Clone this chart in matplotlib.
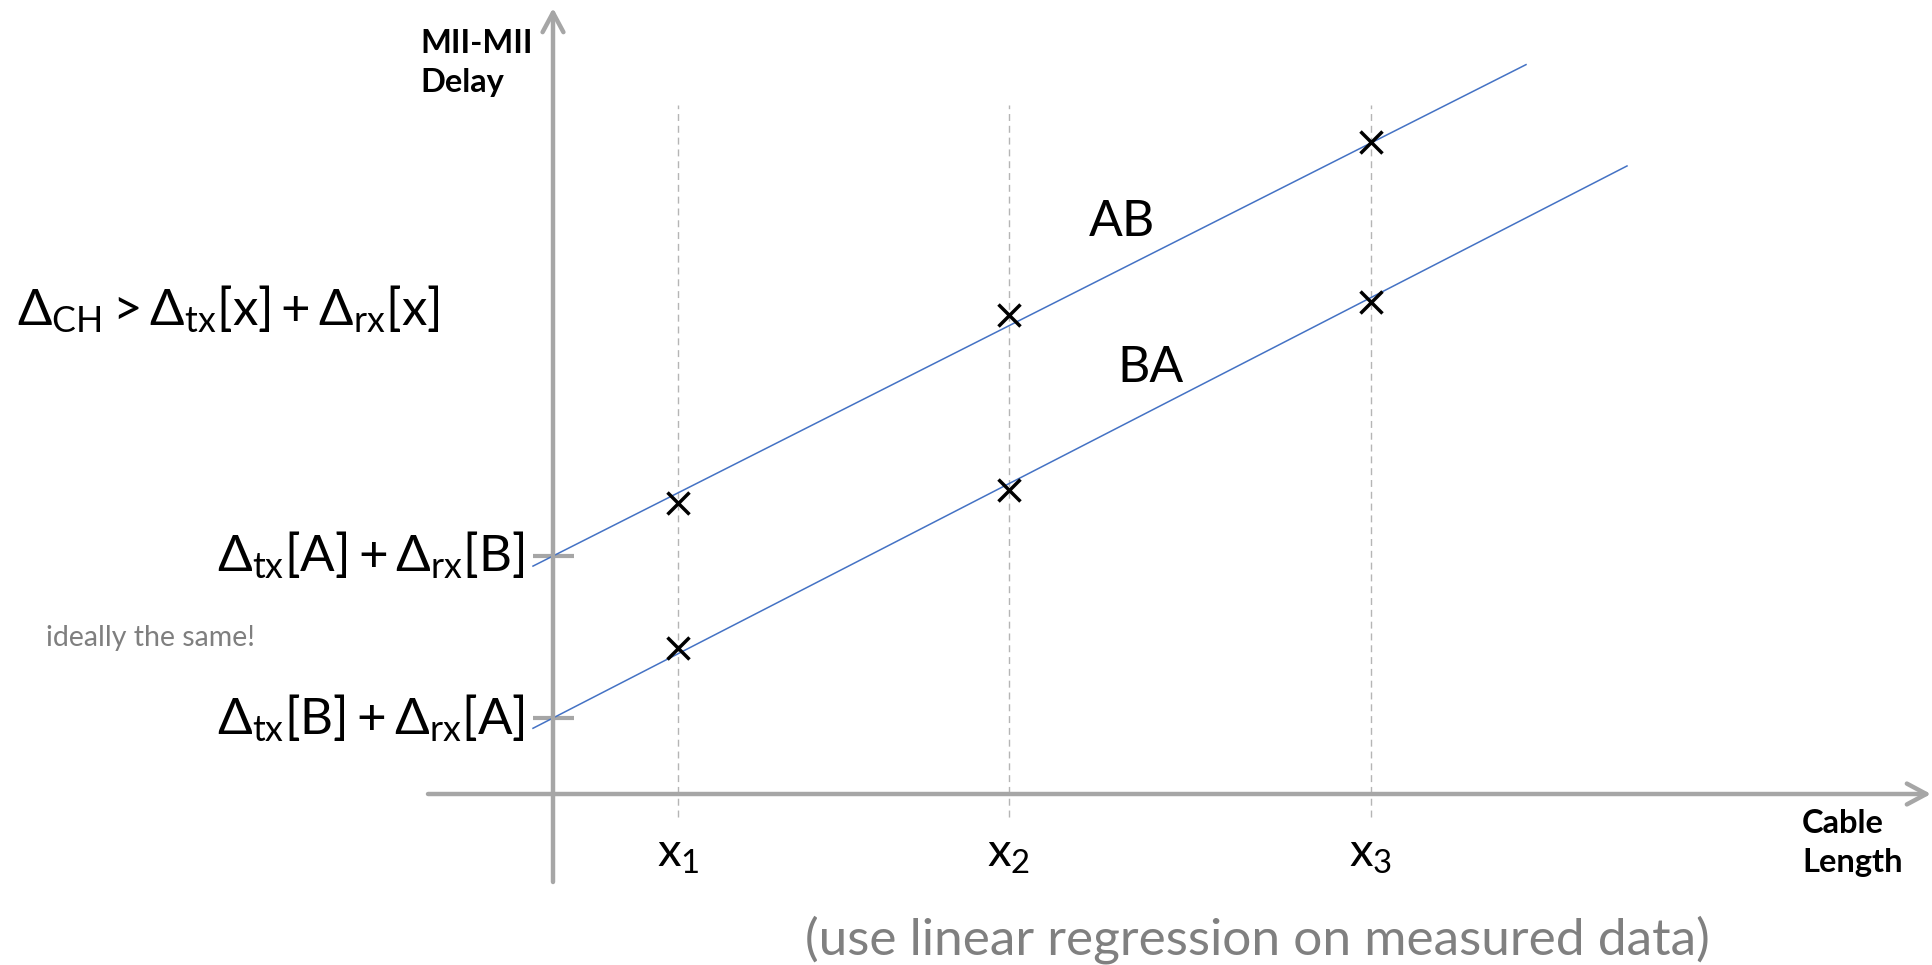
import matplotlib.pyplot as plt
import numpy as np

plt.rcParams['font.family'] = ['Lato', 'DejaVu Sans']
plt.rcParams['mathtext.fontset'] = 'custom'
plt.rcParams['mathtext.rm'] = 'Lato'
plt.rcParams['mathtext.it'] = 'Lato:italic'
plt.rcParams['mathtext.bf'] = 'Lato:bold'
plt.rcParams['mathtext.fallback'] = 'stixsans'

# measured points (arbitrary units)
cable_length = [1.25, 4.56, 8.18]
tick_labels = [r'$\mathrm{x}_1$', r'$\mathrm{x}_2$', r'$\mathrm{x}_3$']
delay_ab = [2.91, 4.79, 6.52]
delay_ba = [1.46, 3.04, 4.92]

# regression lines as drawn: (intercept, slope) and x range
fit_ab = (2.38, 0.505)
fit_ba = (0.76, 0.514)
range_ab = (-0.20, 9.73)
range_ba = (-0.20, 10.74)

label_ab = r'$\Delta_{\mathrm{tx}}[\mathrm{A}]+\Delta_{\mathrm{rx}}[\mathrm{B}]$'
label_ba = r'$\Delta_{\mathrm{tx}}[\mathrm{B}]+\Delta_{\mathrm{rx}}[\mathrm{A}]$'
condition = r'$\Delta_{\mathrm{CH}}>\Delta_{\mathrm{tx}}[\mathrm{x}]+\Delta_{\mathrm{rx}}[\mathrm{x}]$'

gray = '#a6a6a6'
blue = '#4472c4'

fig = plt.figure(figsize=(19.33, 9.65), dpi=100)
ax = fig.add_axes([0, 0, 1, 1])
ax.set_xlim(-5.53, 13.80)
ax.set_ylim(-1.71, 7.94)
ax.axis('off')

# axes with arrow heads
arrow = dict(arrowstyle='->,head_length=1.4,head_width=0.75', color=gray,
             lw=3.2, shrinkA=0, shrinkB=0, mutation_scale=10)
ax.annotate('', xy=(0, 7.86), xytext=(0, -0.88), arrowprops=arrow)
ax.annotate('', xy=(13.78, 0), xytext=(-1.25, 0), arrowprops=arrow)

# guides at the measured lengths
ax.vlines(cable_length, -0.23, 6.89, colors='#b5b5b5', linestyles=(0, (5, 3.5)), lw=1)

# intercept ticks
ax.hlines([fit_ab[0], fit_ba[0]], -0.2, 0.21, colors=gray, lw=3)

for (b, m), rng in [(fit_ab, range_ab), (fit_ba, range_ba)]:
    xs = np.array(rng)
    ax.plot(xs, b + m * xs, color=blue, lw=1.1, zorder=2)

ax.plot(cable_length, delay_ab, 'x', ms=16, mew=2.5, color='black', zorder=3)
ax.plot(cable_length, delay_ba, 'x', ms=16, mew=2.5, color='black', zorder=3)

for xv, lab in zip(cable_length, tick_labels):
    ax.text(xv, -0.73, lab, ha='center', va='baseline', fontsize=34)

ax.text(-0.28, fit_ab[0] - 0.15, label_ab, ha='right', va='baseline', fontsize=36.8)
ax.text(-0.28, fit_ba[0] - 0.16, label_ba, ha='right', va='baseline', fontsize=36.8)
ax.text(-5.36, 4.69, condition, ha='left', va='baseline', fontsize=36.6)
ax.text(-5.07, 1.48, 'ideally the same!', ha='left', va='baseline',
        fontsize=20.5, color='#7f7f7f')

ax.text(5.36, 5.58, 'AB', ha='left', va='baseline', fontsize=36)
ax.text(5.64, 4.12, 'BA', ha='left', va='baseline', fontsize=36)

ax.text(-1.33, 7.65, 'MII-MII\nDelay', ha='left', va='top', fontsize=23.5,
        fontweight='bold', linespacing=1.4)
ax.text(12.49, -0.15, 'Cable\nLength', ha='left', va='top', fontsize=23.5,
        fontweight='bold', linespacing=1.4)

ax.text(7.04, -1.61, '(use linear regression on measured data)', ha='center',
        va='baseline', fontsize=37, color='#808080')

fig.savefig('out.png', dpi=100)
